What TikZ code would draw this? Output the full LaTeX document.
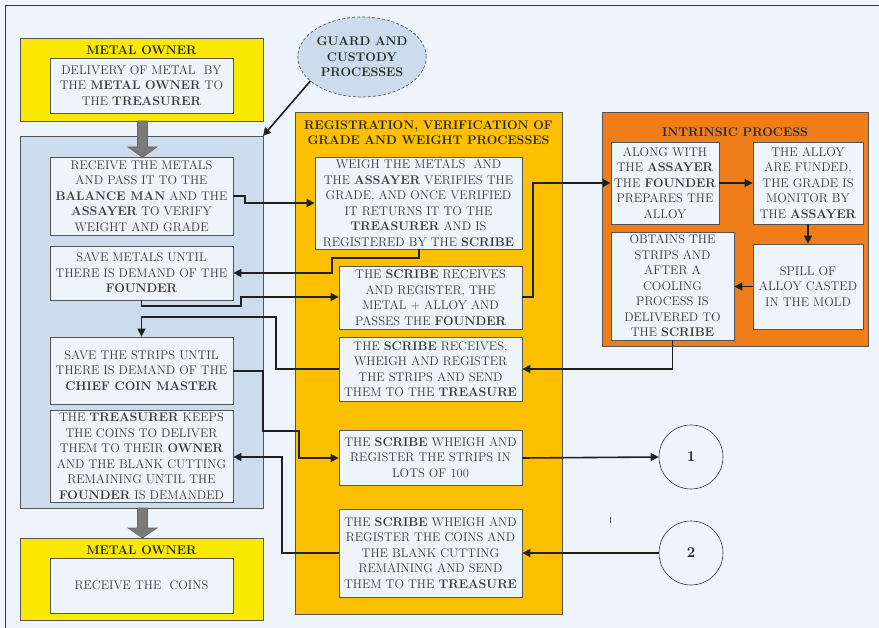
\documentclass[tikz,border=0pt]{standalone}
\usetikzlibrary{arrows.meta,shapes.geometric}
\definecolor{bg}{HTML}{EEF4FC}
\definecolor{bluep}{HTML}{CCDCEC}
\definecolor{yel}{HTML}{F9E800}
\definecolor{gold}{HTML}{FCC000}
\definecolor{orng}{HTML}{EE7D1A}
\definecolor{txt}{HTML}{3A3A3A}
\definecolor{frm}{HTML}{555555}
\definecolor{garrow}{HTML}{7A7A7A}
\newcommand{\fs}{\fontsize{12.5}{15.5}\selectfont}
\begin{document}
\begin{tikzpicture}[x=1pt,y=-1pt,
  panel/.style={draw=frm, line width=0.8pt},
  ibox/.style={draw=frm, fill=bg, line width=0.8pt, inner sep=1pt, align=center, text=txt, font=\fs},
  ptitle/.style={inner sep=0pt, align=center, text=black!85, font=\fs\bfseries},
  conn/.style={line width=1.6pt, black!88},
  tip/.style={-{Triangle[length=8pt,width=8pt]}},
  bigarrow/.style={fill=garrow, draw=black!60, line width=0.6pt},
  circ/.style={circle, draw=black!80, fill=bg, minimum size=64pt, inner sep=0pt, font=\fontsize{15}{18}\selectfont\bfseries, text=black!85, line width=0.6pt}
]
\useasboundingbox (0,0) rectangle (879,628);
\fill[bg] (0,0) rectangle (879,628);
\draw[black!80, line width=0.8pt] (5,628) -- (5,5) -- (879,5);

% ---------- left column ----------
\filldraw[panel, fill=yel] (20,38) rectangle (263,121);
\node[ptitle] (t1) at (141.5,50) {METAL OWNER};
\node[ibox, minimum width=183pt, minimum height=55pt] (a0) at (141.5,85.5)
  {DELIVERY OF METAL\ \ BY\\THE \textbf{METAL OWNER} TO\\THE \textbf{TREASURER}};

\filldraw[panel, fill=bluep] (20,136) rectangle (263,508);
\node[ibox, minimum width=183pt, minimum height=78pt] (b1) at (141.5,196)
  {RECEIVE THE METALS\\AND PASS IT TO THE\\\textbf{BALANCE MAN} AND THE\\\textbf{ASSAYER} TO VERIFY\\WEIGHT AND GRADE};
\node[ibox, minimum width=183pt, minimum height=54pt] (b2) at (141.5,273)
  {SAVE METALS UNTIL\\THERE IS DEMAND OF THE\\\textbf{FOUNDER}};
\node[ibox, minimum width=183pt, minimum height=67pt] (b3) at (141.5,370.5)
  {SAVE THE STRIPS UNTIL\\THERE IS DEMAND OF THE\\\textbf{CHIEF COIN MASTER}};
\node[ibox, minimum width=183pt, minimum height=92pt] (b4) at (141.5,456)
  {THE \textbf{TREASURER} KEEPS\\THE COINS TO DELIVER\\THEM TO THEIR \textbf{OWNER}\\AND THE BLANK CUTTING\\REMAINING UNTIL THE\\\textbf{FOUNDER} IS DEMANDED};

\filldraw[panel, fill=yel] (20,538) rectangle (263,620);
\node[ptitle] (t2) at (141.5,550) {METAL OWNER};
\node[ibox, minimum width=183pt, minimum height=55pt] (c0) at (141.5,585.5)
  {RECEIVE THE\ \ COINS};

% grey block arrows
\filldraw[bigarrow] (137.5,121) -- (147.5,121) -- (147.5,147) -- (157,147) -- (142.5,157.5) -- (128,147) -- (137.5,147) -- cycle;
\filldraw[bigarrow] (137.5,508) -- (147.5,508) -- (147.5,528) -- (157,528) -- (142.5,538) -- (128,528) -- (137.5,528) -- cycle;

% ---------- ellipse ----------
\node[ellipse, draw=black!70, densely dashed, fill=bluep, minimum width=120pt, minimum height=80pt, inner sep=0pt, align=center, font=\fs\bfseries, text=black!85, line width=0.6pt] (ell) at (362,57)
  {GUARD AND\\CUSTODY\\PROCESSES};
\coordinate (bpne) at (263,136);
\draw[conn, tip] (ell.205) -- (bpne);

% ---------- middle column ----------
\filldraw[panel, fill=gold] (295,112) rectangle (562,614);
\node[ptitle] (t3) at (428.5,132.5) {REGISTRATION, VERIFICATION OF\\GRADE AND WEIGHT PROCESSES};
\node[ibox, minimum width=207pt, minimum height=92pt] (m1) at (418.5,203)
  {WEIGH THE METALS\ \ AND\\THE \textbf{ASSAYER} VERIFIES THE\\GRADE, AND ONCE VERIFIED\\IT RETURNS IT TO THE\\\textbf{TREASURER} AND IS\\REGISTERED BY THE \textbf{SCRIBE}};
\node[ibox, minimum width=183pt, minimum height=63pt] (m2) at (430.5,297.5)
  {THE \textbf{SCRIBE} RECEIVES\\AND REGISTER, THE\\METAL + ALLOY AND\\PASSES THE \textbf{FOUNDER}};
\node[ibox, minimum width=183pt, minimum height=64pt] (m3) at (430.5,369)
  {THE \textbf{SCRIBE} RECEIVES,\\WHEIGH AND REGISTER\\THE STRIPS AND SEND\\THEM TO THE \textbf{TREASURE}};
\node[ibox, minimum width=183pt, minimum height=55pt] (m4) at (430.5,457.5)
  {THE \textbf{SCRIBE} WHEIGH AND\\REGISTER THE STRIPS IN\\LOTS OF 100};
\node[ibox, minimum width=183pt, minimum height=88pt] (m5) at (430.5,553)
  {THE \textbf{SCRIBE} WHEIGH AND\\REGISTER THE COINS AND\\THE BLANK CUTTING\\REMAINING AND SEND\\THEM TO THE \textbf{TREASURE}};

% ---------- right column ----------
\filldraw[panel, fill=orng] (602,112) rectangle (868,346);
\node[ptitle] (t4) at (735,132) {INTRINSIC PROCESS};
\node[ibox, minimum width=108pt, minimum height=82pt] (o1) at (665,183)
  {ALONG WITH\\THE \textbf{ASSAYER}\\THE \textbf{FOUNDER}\\PREPARES THE\\ALLOY};
\node[ibox, minimum width=110pt, minimum height=82pt] (o2) at (808,183)
  {THE ALLOY\\ARE FUNDED,\\THE GRADE IS\\MONITOR BY\\THE \textbf{ASSAYER}};
\node[ibox, minimum width=110pt, minimum height=85pt] (o3) at (808,286.5)
  {SPILL OF\\ALLOY CASTED\\IN THE MOLD};
\node[ibox, minimum width=123pt, minimum height=108pt] (o4) at (672.5,286)
  {OBTAINS THE\\STRIPS AND\\AFTER A\\COOLING\\PROCESS IS\\DELIVERED TO\\THE \textbf{SCRIBE}};

\node[circ] (c1) at (691,457) {1};
\node[circ] (c2) at (691,553) {2};
\draw[black!70, line width=0.5pt] (610.5,517) -- (610.5,523);

% ---------- connectors ----------
\draw[conn, tip] (b1.east |- 0,196) -- (245,196) -- (245,203) -- (m1.west |- 0,203);
\draw[conn, tip] (m1.south -| 419,0) -- (419,258) -- (332,258) -- (332,273) -- (b2.east |- 0,273);
\draw[conn, tip] (b2.south) -- (141.5,306) -- (241,306) -- (241,297) -- (m2.west |- 0,297);
\draw[conn, tip] (m2.east |- 0,297) -- (533,297) -- (533,183) -- (o1.west |- 0,183);
\draw[conn, tip] (o1.east) -- (o2.west);
\draw[conn, tip] (o2.south) -- (o3.north);
\draw[conn, tip] (o3.west) -- (o4.east |- o3.west);
\draw[conn, tip] (o4.south) -- (672.5,369) -- (m3.east |- 0,369);
\draw[conn, tip] (m3.west |- 0,369) -- (276,369) -- (276,317) -- (141.5,317) -- (b3.north);
\draw[conn, tip] (b3.east |- 0,371) -- (263,371) -- (263,431) -- (299,431) -- (299,458) -- (m4.west |- 0,458);
\draw[conn, tip] (m4.east |- 0,458) -- (c1.west);
\draw[conn, tip] (c2.west) -- (m5.east |- c2.west);
\draw[conn, tip] (m5.west |- 0,553) -- (282,553) -- (282,457) -- (b4.east |- 0,457);
\end{tikzpicture}
\end{document}
